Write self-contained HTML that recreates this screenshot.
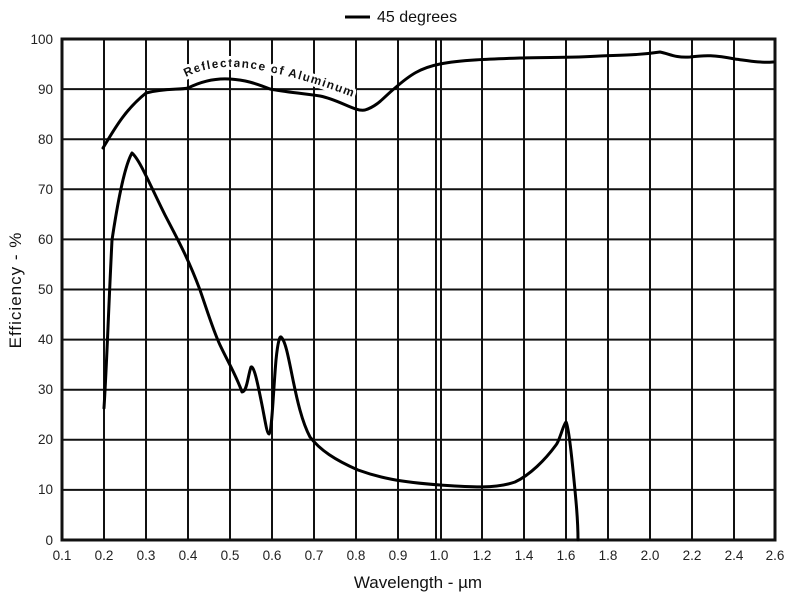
<!DOCTYPE html>
<html><head><meta charset="utf-8"><style>
html,body{margin:0;padding:0;background:#fff;}
svg{display:block;font-family:"Liberation Sans",Arial,sans-serif;}
</style></head><body>
<svg width="788" height="600" viewBox="0 0 788 600" xmlns="http://www.w3.org/2000/svg">
<rect width="788" height="600" fill="#fff"/>
<g stroke="#111" stroke-width="2" fill="none">
<path d="M62,89.1H775M62,139.2H775M62,189.3H775M62,239.4H775M62,289.5H775M62,339.6H775M62,389.7H775M62,439.8H775M62,489.9H775"/>
<path d="M104,39V540M146,39V540M188,39V540M230,39V540M272,39V540M314,39V540M356,39V540M398,39V540M436,39V540M441,39V540M482,39V540M524,39V540M566,39V540M608,39V540M650,39V540M692,39V540M734,39V540"/>
</g>
<rect x="62" y="39" width="713" height="501" fill="none" stroke="#111" stroke-width="3"/>
<path id="tp" d="M186,77 C205,67 230,64 260,70 C290,76 320,84 360,100" fill="none" stroke="none"/>
<text font-size="12" font-weight="bold" fill="#111" stroke="#fff" stroke-width="6" paint-order="stroke"><textPath href="#tp" textLength="172" lengthAdjust="spacing">Reflectance  of  Aluminum</textPath></text>
<g fill="none" stroke="#000" stroke-width="3" stroke-linejoin="round" stroke-linecap="round">
<path d="M103,148 C115,128 125,110 146,93 C165,88 180,90 188,88 C200,82 215,78 230,79 C245,80 255,83 270,89 C285,92 300,93 320,96 C340,100 355,112 365,110 C378,106 385,96 395,88 C410,75 420,68 440,64 C460,60 490,59 520,58 C545,57 570,58 600,56 C625,55 640,55 660,52 C670,54 675,58 690,57 C705,55 715,55 735,59 C750,61 760,63 773,62"/>
<path d="M104,408 C107,360 108,320 112,240 C118,200 125,165 132,153 C140,160 150,185 165,215 C178,240 188,258 200,290 C207,310 213,330 220,345 C228,362 236,375 242,392 C247,392 248,375 251,367 C254,366 257,380 262,405 C265,420 267,434 269,434 C272,432 273,395 276,360 C278,340 280,336 281,337 C285,340 288,355 292,375 C297,400 302,422 310,437 C320,450 335,460 358,470 C380,478 400,482 440,485 C470,487 495,489 515,482 C530,475 545,460 556,445 C560,440 563,425 566,422 C568,425 570,440 573,470 C576,500 578,520 578,540"/>
</g>
<line x1="345" y1="17" x2="370" y2="17" stroke="#000" stroke-width="3"/>
<text x="377" y="22" font-size="16" fill="#111">45 degrees</text>
<g font-size="13.5" fill="#222" text-anchor="end">
<text x="53" y="44">100</text><text x="53" y="94">90</text><text x="53" y="144">80</text><text x="53" y="194">70</text><text x="53" y="244">60</text><text x="53" y="294">50</text><text x="53" y="344">40</text><text x="53" y="394">30</text><text x="53" y="444">20</text><text x="53" y="494">10</text><text x="53" y="545">0</text>
</g>
<g font-size="13.5" fill="#222" text-anchor="middle">
<text x="62" y="560">0.1</text><text x="104" y="560">0.2</text><text x="146" y="560">0.3</text><text x="188" y="560">0.4</text><text x="230" y="560">0.5</text><text x="272" y="560">0.6</text><text x="314" y="560">0.7</text><text x="356" y="560">0.8</text><text x="398" y="560">0.9</text><text x="439" y="560">1.0</text><text x="482" y="560">1.2</text><text x="524" y="560">1.4</text><text x="566" y="560">1.6</text><text x="608" y="560">1.8</text><text x="650" y="560">2.0</text><text x="692" y="560">2.2</text><text x="734" y="560">2.4</text><text x="775" y="560">2.6</text>
</g>
<text x="418" y="588" font-size="17" fill="#111" text-anchor="middle">Wavelength - µm</text>
<text transform="translate(21,290) rotate(-90)" font-size="17" fill="#111" text-anchor="middle" letter-spacing="1">Efficiency - %</text>
</svg>
</body></html>
